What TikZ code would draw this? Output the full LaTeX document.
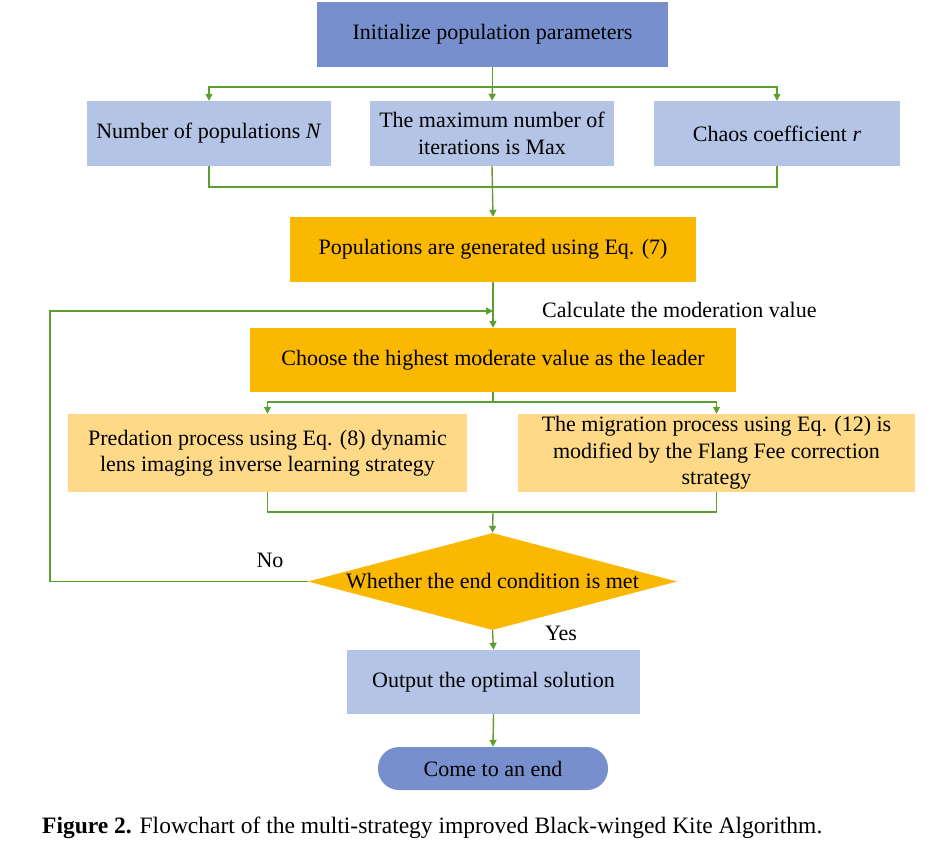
\documentclass[tikz,border=0pt]{standalone}
\usepackage{fontspec}
\setmainfont{Liberation Serif}
\usetikzlibrary{arrows.meta,shapes.geometric}
\definecolor{dblue}{HTML}{7790CD}
\definecolor{lblue}{HTML}{B4C4E6}
\definecolor{dorange}{HTML}{FBB800}
\definecolor{lorange}{HTML}{FEDA88}
\definecolor{lgreen}{HTML}{5B9F2E}
\begin{document}
\begin{tikzpicture}[x=1pt,y=-1pt,
  every node/.style={font=\fontsize{22}{26.5}\selectfont, text=black, inner sep=0pt, align=center},
  boxA/.style={rectangle, fill=dblue},
  boxB/.style={rectangle, fill=lblue},
  boxC/.style={rectangle, fill=dorange},
  boxD/.style={rectangle, fill=lorange},
  conn/.style={draw=lgreen, line width=1.4pt},
  arr/.style={conn, -{Triangle[length=7pt,width=7pt]}},
  lbl/.style={fill=none}
]
\useasboundingbox (0,0) rectangle (934,846);
\node[boxA, minimum width=351pt, minimum height=65pt] (init) at (492.5,34.5) {Initialize population parameters};
\node[boxB, minimum width=244pt, minimum height=65pt] (bN) at (209,133.5) {Number of populations \textit{N}};
\node[boxB, minimum width=244pt, minimum height=65pt] (bMax) at (492,133.5) {The maximum number of\\iterations is Max};
\node[boxB, minimum width=246pt, minimum height=65pt] (bR) at (777,133.5) {Chaos coefficient \textit{r}};
\node[boxC, minimum width=406pt, minimum height=65pt] (pop) at (493,249.5) {Populations are generated using Eq. (7)};
\node[boxC, minimum width=486pt, minimum height=64pt] (leader) at (493,360) {Choose the highest moderate value as the leader};
\node[boxD, minimum width=399pt, minimum height=78pt] (pred) at (267.5,453) {Predation process using Eq. (8) dynamic\\lens imaging inverse learning strategy};
\node[boxD, minimum width=397pt, minimum height=78pt] (mig) at (716.5,453) {The migration process using Eq. (12) is\\modified by the Flang Fee correction\\strategy};
\node[diamond, fill=dorange, minimum width=369pt, minimum height=97pt, aspect=3.8] (dia) at (492.5,581.5) {\makebox[0pt]{Whether the end condition is met}};
\node[boxB, minimum width=293pt, minimum height=64pt] (out) at (493.5,682) {Output the optimal solution};
\node[boxA, rounded corners=21pt, minimum width=230pt, minimum height=43pt] (end) at (493,768.5) {Come to an end};

\node[lbl, anchor=west] (calc) at (542,310) {Calculate the moderation value};
\node[lbl] (no) at (270,560) {No};
\node[lbl] (yes) at (561,633) {Yes};
\node[lbl, anchor=west, font=\fontsize{23.5}{28}\selectfont] (cap) at (42,828) {\textbf{Figure 2.} Flowchart of the multi-strategy improved Black-winged Kite Algorithm.};

\coordinate (j1) at (492.5,87);
\coordinate (j2) at (492.5,187);
\coordinate (j3) at (493,402);
\coordinate (j4) at (493,512);
\coordinate (fbCorner) at (50,311);
\coordinate (fbEnd) at (493,311);

\draw[conn] (init.south) -- (j1);
\draw[arr] (j1) -| (bN.north);
\draw[arr] (j1) -| (bR.north);
\draw[arr] (j1) -- (bMax.north);
\draw[conn] (bN.south) |- (j2) -| (bR.south);
\draw[arr] (bMax.south) -- (pop.north);
\draw[arr] (pop.south) -- (leader.north);
\draw[conn] (leader.south) -- (j3);
\draw[arr] (j3) -| (pred.north);
\draw[arr] (j3) -| (mig.north);
\draw[conn] (pred.south) |- (j4) -| (mig.south);
\draw[arr] (j4) -- (dia.north);
\draw[arr] (dia.west) -| (fbCorner) -- (fbEnd);
\draw[arr] (dia.south) -- (out.north);
\draw[arr] (out.south) -- (end.north);
\end{tikzpicture}
\end{document}
